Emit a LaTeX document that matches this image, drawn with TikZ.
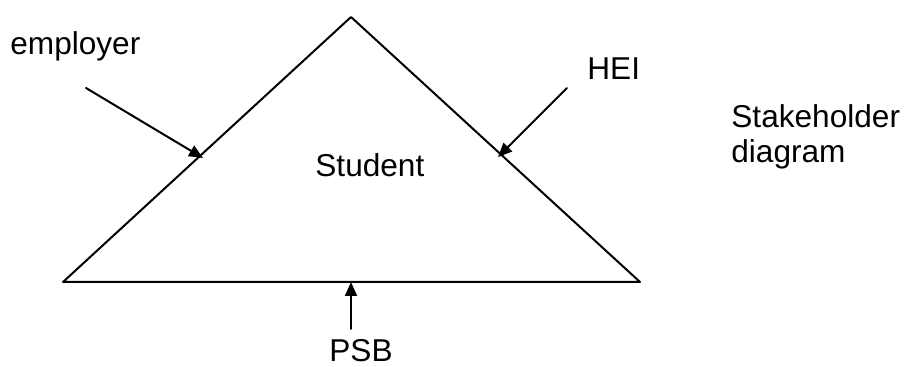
\documentclass[tikz,border=0pt]{standalone}
\usepackage{fontspec}
\setmainfont{Liberation Sans}
\usepackage{tikz}
\usetikzlibrary{arrows.meta}

\begin{document}
\begin{tikzpicture}[line cap=round,line join=round,>={Triangle[length=7pt,width=6pt]},x=0.5pt,y=-0.5pt]
\useasboundingbox (0,0) rectangle (904,367);
\tikzset{lbl/.style={anchor=base west,inner sep=0pt,font=\fontsize{15.8}{17.5}\selectfont}}
% triangle
\coordinate (apex) at (351,17);
\coordinate (bl) at (63,282);
\coordinate (br) at (640,282);
\draw [line width=1pt] (apex)-- (bl)-- (br)-- cycle;
% arrows
\coordinate (emp0) at (86,88);
\coordinate (emp1) at (203,158);
\coordinate (hei0) at (567,88);
\coordinate (hei1) at (498,157);
\coordinate (psb0) at (351,329);
\coordinate (psb1) at (351,282);
\draw [->,line width=1pt] (emp0)-- (emp1);
\draw [->,line width=1pt] (hei0)-- (hei1);
\draw [->,line width=1pt] (psb0)-- (psb1);
% labels
\node[lbl] (employer) at (10,55) {employer};
\node[lbl] (hei) at (587,80) {HEI};
\node[lbl] (student) at (315,177) {Student};
\node[lbl] (psb) at (329,362) {PSB};
\node[lbl,align=left] (title) at (731,163) {Stakeholder\\diagram};
\end{tikzpicture}
\end{document}
